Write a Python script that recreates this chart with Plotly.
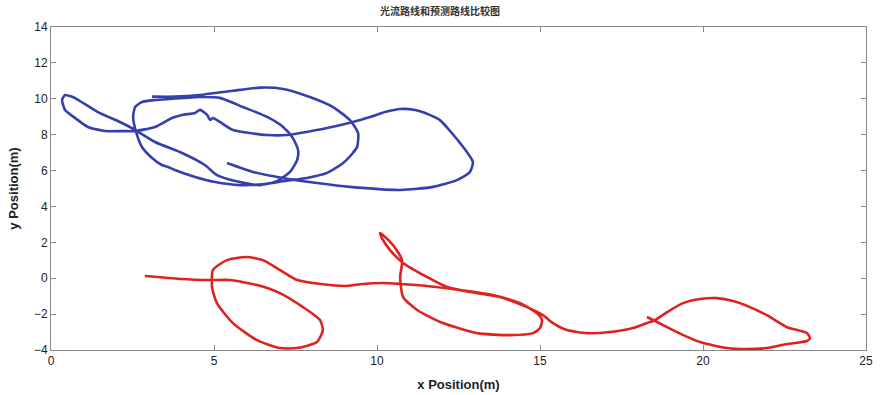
import plotly.graph_objects as go

# Blue path (光流路线)
blue_x = [5.40, 6.20, 7.12, 8.16, 9.17, 10.71, 11.72, 12.45, 12.85, 12.94, 12.55, 11.93, 11.63, 11.17,
          10.71, 10.25, 9.79, 9.26, 8.47, 7.64, 7.24, 6.63, 6.10, 5.58, 5.18, 4.97, 4.88, 4.79, 4.57,
          4.42, 4.02, 3.71, 3.19, 2.58, 2.18, 1.66, 1.13, 0.74, 0.43, 0.34, 0.43, 0.58, 0.74, 1.44,
          2.18, 2.58, 3.19, 4.02, 4.72, 5.09, 5.80, 6.41, 6.93, 7.33, 7.55, 7.58, 7.42, 7.12, 6.63,
          5.89, 5.18, 4.57, 3.65, 3.19, 2.79, 2.58, 2.52, 2.61, 2.79, 3.10, 3.40, 3.59, 3.80, 4.42,
          5.03, 5.80, 6.56, 7.12, 7.85, 8.47, 8.96, 9.26, 9.39, 9.42, 9.17, 8.65, 7.94, 7.12, 6.41,
          5.58, 4.57, 3.80, 3.10]
blue_y = [6.42, 5.92, 5.59, 5.31, 5.09, 4.92, 5.09, 5.47, 5.92, 6.48, 7.53, 8.81, 9.09, 9.37,
          9.43, 9.26, 8.99, 8.71, 8.37, 8.09, 7.98, 7.98, 8.09, 8.26, 8.71, 8.93, 8.82, 9.10, 9.38,
          9.21, 9.10, 8.93, 8.43, 8.20, 8.20, 8.20, 8.43, 8.93, 9.38, 9.93, 10.21, 10.15, 10.04, 9.26,
          8.65, 8.26, 7.59, 6.98, 6.31, 5.75, 5.36, 5.19, 5.41, 5.92, 6.59, 7.14, 7.81, 8.43, 8.99,
          9.54, 10.05, 10.10, 9.99, 9.93, 9.82, 9.54, 8.99, 8.15, 7.31, 6.70, 6.31, 6.20, 6.03, 5.64,
          5.36, 5.19, 5.25, 5.41, 5.59, 5.87, 6.42, 6.98, 7.31, 8.09, 8.81, 9.54, 10.10, 10.55, 10.62,
          10.45, 10.21, 10.12, 10.12]

# Red path (预测路线)
red_x = [2.88, 3.96, 4.94, 5.49, 6.32, 7.02, 7.73, 8.25, 8.34, 8.16, 7.55, 7.02, 6.32, 5.58, 5.09,
         4.94, 4.97, 5.40, 6.01, 6.50, 7.02, 7.55, 8.04, 8.56, 9.08, 9.57, 10.18, 10.71, 11.53, 12.55,
         13.56, 14.39, 14.91, 15.06, 15.00, 14.79, 14.08, 13.07, 12.02, 11.23, 10.80, 10.71, 10.77,
         10.49, 10.18, 10.09, 10.15, 10.40, 10.80, 11.53, 12.15, 12.85, 13.77, 14.60, 15.09, 15.40,
         15.83, 16.44, 17.15, 17.85, 18.28, 18.53, 18.90, 19.39, 19.91, 20.43, 20.92, 21.44, 21.96,
         22.58, 23.19, 23.28, 23.19, 22.58, 21.96, 21.35, 20.74, 19.91, 19.20, 18.59, 18.28]
red_y = [0.12, -0.04, -0.10, -0.10, -0.38, -0.83, -1.61, -2.33, -2.89, -3.56, -3.89, -3.89, -3.45,
         -2.50, -1.39, -0.49, 0.46, 1.01, 1.18, 1.01, 0.46, -0.10, -0.27, -0.38, -0.43, -0.32, -0.27,
         -0.32, -0.43, -0.66, -0.94, -1.39, -1.95, -2.33, -2.78, -3.06, -3.17, -3.06, -2.50, -1.77,
         -1.05, 0.07, 1.01, 1.85, 2.41, 2.52, 2.24, 1.57, 0.85, 0.07, -0.49, -0.77, -1.05, -1.61,
         -2.06, -2.50, -2.89, -3.06, -3.00, -2.78, -2.50, -2.33, -1.89, -1.39, -1.16, -1.11, -1.27,
         -1.61, -2.06, -2.73, -3.06, -3.34, -3.50, -3.67, -3.89, -3.95, -3.89, -3.56, -3.00, -2.44,
         -2.16]

x_ticks = [0, 5, 10, 15, 20, 25]
y_ticks = [-4, -2, 0, 2, 4, 6, 8, 10, 12, 14]

fig = go.Figure()
fig.add_trace(go.Scatter(x=blue_x, y=blue_y, mode="lines",
                         line=dict(color="#3540ad", width=2.6, shape="spline", smoothing=0.6),
                         showlegend=False))
fig.add_trace(go.Scatter(x=red_x, y=red_y, mode="lines",
                         line=dict(color="#e0221f", width=2.6, shape="spline", smoothing=0.6),
                         showlegend=False))

axis_common = dict(showgrid=False, zeroline=False, showline=True, linecolor="#8a8a8a",
                   linewidth=1, mirror="ticks", ticks="inside", ticklen=5,
                   tickcolor="#8a8a8a", automargin=False,
                   tickfont=dict(family="Liberation Sans, Arial, sans-serif", size=12, color="#222"))

fig.update_layout(
    width=880, height=395,
    margin=dict(l=51, r=14, t=27, b=45),
    paper_bgcolor="white", plot_bgcolor="white",
    title=dict(text="<b>光流路线和预测路线比较图</b>", x=0.5, xanchor="center", y=0.97, yanchor="middle",
               font=dict(family="Noto Sans CJK SC", size=10, color="#333")),
    xaxis=dict(range=[0, 25], tickvals=x_ticks,
               title=dict(text="<b>x Position(m)</b>", standoff=12,
                          font=dict(family="Liberation Sans, Arial, sans-serif", size=13, color="#222")),
               **axis_common),
    yaxis=dict(range=[-4, 14], tickvals=y_ticks,
               title=dict(text="<b>y Position(m)</b>", standoff=12,
                          font=dict(family="Liberation Sans, Arial, sans-serif", size=13, color="#222")),
               **axis_common),
)

fig.write_html("out.html", config={"displayModeBar": False})

# remove the browser's default page margin so the figure sits at the window's corner
with open("out.html", "r", encoding="utf-8") as f:
    html = f.read()
html = html.replace("<head>", "<head><style>html,body{margin:0;padding:0;overflow:hidden;}</style>", 1)
with open("out.html", "w", encoding="utf-8") as f:
    f.write(html)
